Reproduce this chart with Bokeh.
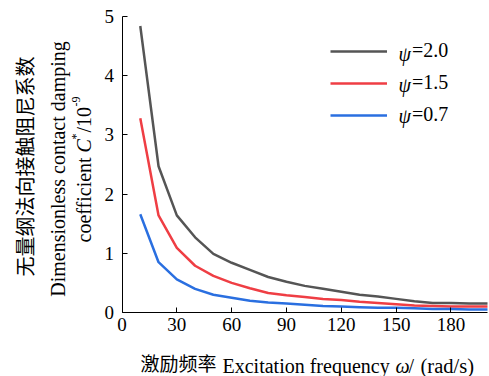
from bokeh.plotting import figure
from bokeh.models import Range1d, FixedTicker, Label, Legend, LegendItem
from bokeh.embed import file_html
from bokeh.resources import INLINE
import math

# Excitation frequency (rad/s)
omega = [10, 20, 30, 40, 50, 60, 70, 80, 90, 100,
         110, 120, 130, 140, 150, 160, 170, 180, 190, 200]

# Dimensionless contact damping coefficient C*/1e-9 for each psi
c_psi_20 = [4.84, 2.47, 1.64, 1.27, 0.99, 0.84, 0.72, 0.60, 0.52, 0.45,
            0.40, 0.35, 0.30, 0.27, 0.23, 0.19, 0.16, 0.16, 0.15, 0.15]
c_psi_15 = [3.28, 1.64, 1.09, 0.79, 0.62, 0.50, 0.41, 0.33, 0.29, 0.26,
            0.23, 0.21, 0.18, 0.16, 0.14, 0.12, 0.11, 0.10, 0.10, 0.10]
c_psi_07 = [1.66, 0.85, 0.56, 0.40, 0.30, 0.25, 0.20, 0.17, 0.15, 0.13,
            0.11, 0.10, 0.09, 0.08, 0.08, 0.07, 0.06, 0.06, 0.05, 0.05]

psi_values = ["2.0", "1.5", "0.7"]
series_colors = ["#555555", "#ef3e44", "#2a6fe0"]

x_ticks = [0, 30, 60, 90, 120, 150, 180]
y_ticks = [0, 1, 2, 3, 4, 5]

SERIF = "Liberation Serif"
CJK = "Noto Sans CJK SC"

W, H = 489, 376
# data area inside the canvas (pixels): x 0..200 -> 121.5..487, y 0..5 -> 312..16
X0_PX, X1_PX, Y0_PX, Y1_PX = 121.5, 487.0, 312.0, 16.0
sx = (X1_PX - X0_PX) / 200.0
sy = (Y0_PX - Y1_PX) / 5.0

p = figure(width=W, height=H, output_backend="svg", toolbar_location=None,
           x_range=Range1d(-X0_PX / sx, (W - X0_PX) / sx),
           y_range=Range1d(-(H - Y0_PX) / sy, 5 + Y1_PX / sy),
           min_border=0, min_border_left=0, min_border_right=0,
           min_border_top=0, min_border_bottom=0)
p.outline_line_color = None
p.xgrid.grid_line_color = None
p.ygrid.grid_line_color = None
p.background_fill_color = "white"
p.border_fill_color = "white"

for ax, ticks, bnds in ((p.xaxis[0], x_ticks, (0, 200)),
                        (p.yaxis[0], y_ticks, (0, 5))):
    ax.fixed_location = 0
    ax.bounds = bnds
    ax.ticker = FixedTicker(ticks=ticks)
    ax.major_tick_in = 5
    ax.major_tick_out = 0
    ax.minor_tick_line_color = None
    ax.axis_line_color = "black"
    ax.axis_line_width = 1
    ax.major_tick_line_color = "black"
    ax.major_label_text_font = SERIF
    ax.major_label_text_font_size = "19px"
    ax.major_label_text_color = "black"
p.xaxis[0].major_label_standoff = 5
p.yaxis[0].major_label_standoff = 8

renderers = []
for ys, col in zip((c_psi_20, c_psi_15, c_psi_07), series_colors):
    r = p.line(omega, ys, line_color=col, line_width=2.5)
    renderers.append(r)


def add_text(txt, x, y, font, size, style="normal", angle=0.0, align="left",
             baseline="alphabetic"):
    # screen offsets measured from the bottom-left corner of the canvas
    p.add_layout(Label(x=x, y=y, x_units="screen", y_units="screen", text=txt,
                       text_font=font, text_font_size=size,
                       text_font_style=style, text_color="black",
                       angle=angle, text_align=align, text_baseline=baseline))


# legend: line samples with "=value" labels, italic psi placed in front
LEG_X, LEG_Y = 330, 250
GLYPH_W, STANDOFF, PSI_W = 57, 11, 14
legend = Legend(items=[LegendItem(label="=" + v, renderers=[r])
                       for v, r in zip(psi_values, renderers)],
                location=(LEG_X, LEG_Y), orientation="vertical",
                glyph_width=GLYPH_W, glyph_height=20, spacing=9,
                label_standoff=STANDOFF + PSI_W, padding=0, margin=0,
                border_line_color=None, background_fill_alpha=0,
                label_text_font=SERIF, label_text_font_size="20px",
                label_text_color="black")
p.add_layout(legend, "center")
for i in range(len(psi_values)):
    add_text("ψ", LEG_X + GLYPH_W + STANDOFF, H - 53 - 31 * i, SERIF, "20px",
             style="italic", baseline="middle")

# x-axis title
XB = H - 365
add_text("激励频率", 140, H - 361.5, CJK, "19px", baseline="middle")
add_text("Excitation frequency", 222, XB, SERIF, "20px")
add_text("ω", 395, XB, SERIF, "20px", style="italic")
add_text("/", 408, XB, SERIF, "20px")
add_text("(rad/s)", 420, XB, SERIF, "20.5px")

# y-axis title: three vertical lines
rot = math.pi / 2
add_text("无量纲法向接触阻尼系数", 24, H - 166, CJK, "20px", angle=rot,
         align="center", baseline="middle")
add_text("Dimensionless contact damping", 57, H - 168.5, SERIF, "20px",
         angle=rot, align="center")
XC = 83
y0 = H - 242
add_text("coefficient ", XC, y0, SERIF, "20px", angle=rot)
add_text("C", XC, y0 + 90, SERIF, "20px", style="italic", angle=rot)
add_text("*", XC - 8, y0 + 103, SERIF, "12px", angle=rot)
add_text("/10", XC, y0 + 110, SERIF, "20px", angle=rot)
add_text("-9", XC - 8, y0 + 136, SERIF, "12px", angle=rot)

open("out.html", "w").write(file_html(p, INLINE))
